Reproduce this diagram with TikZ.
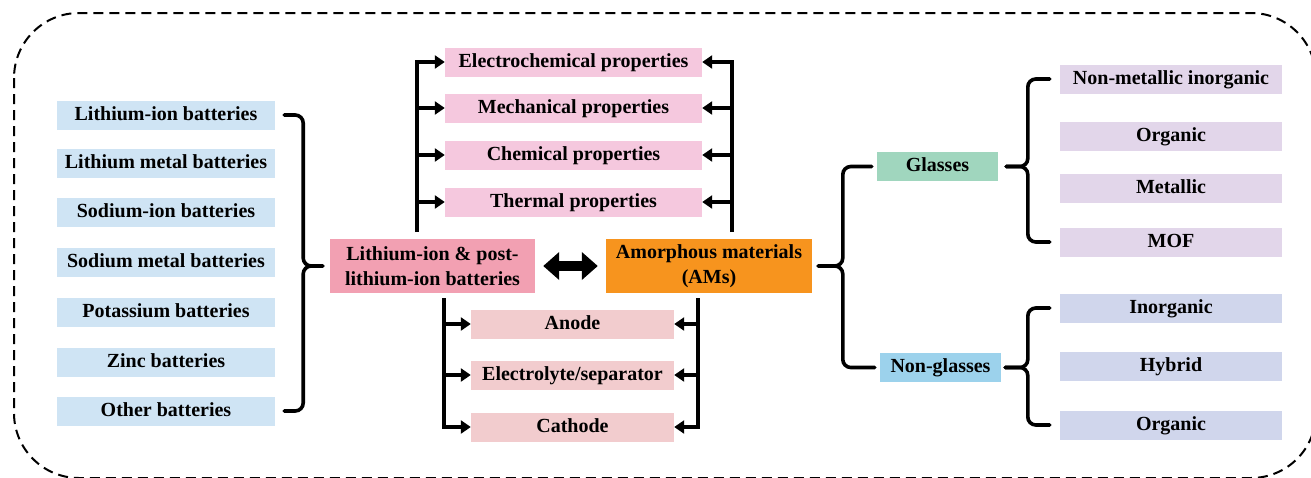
\documentclass[tikz,border=0pt]{standalone}
\usepackage{fontspec}
\setmainfont{Liberation Serif}
\usetikzlibrary{arrows.meta,calc}
\definecolor{leftblue}{RGB}{207,228,244}
\definecolor{mainpink}{RGB}{242,160,178}
\definecolor{amorange}{RGB}{247,148,30}
\definecolor{proppink}{RGB}{245,200,222}
\definecolor{partpink}{RGB}{242,204,206}
\definecolor{glgreen}{RGB}{160,214,190}
\definecolor{ngblue}{RGB}{156,210,236}
\definecolor{glpurple}{RGB}{226,214,234}
\definecolor{nglav}{RGB}{208,214,236}
\begin{document}
\begin{tikzpicture}[x=1pt,y=-1pt,
  font=\fontsize{20}{25}\selectfont\bfseries,
  basebox/.style={inner sep=0pt, text=black, align=center},
  box/.style={basebox, minimum height=29pt, text height=14pt, text depth=4pt},
  bigbox/.style={basebox, minimum height=54pt},
  brace/.style={line width=3.6pt, rounded corners=8pt, line cap=round},
  conn/.style={line width=3.4pt, -{Triangle[length=10pt,width=13pt]}},
  dbl/.style={line width=10pt, {Triangle[length=16pt,width=27pt]}-{Triangle[length=16pt,width=27pt]}}
]
\useasboundingbox (0,0) rectangle (1311,477);
% dashed frame
\draw[line width=2pt, dash pattern=on 10pt off 6pt, rounded corners=65pt] (14,13) rectangle (1316,478);

% left battery boxes
\node[box, fill=leftblue, minimum width=218pt] (b1) at (166,115) {Lithium-ion batteries};
\node[box, fill=leftblue, minimum width=218pt] (b2) at (166,163) {Lithium metal batteries};
\node[box, fill=leftblue, minimum width=218pt] (b3) at (166,212) {Sodium-ion batteries};
\node[box, fill=leftblue, minimum width=218pt] (b4) at (166,262) {Sodium metal batteries};
\node[box, fill=leftblue, minimum width=218pt] (b5) at (166,312) {Potassium batteries};
\node[box, fill=leftblue, minimum width=218pt] (b6) at (166,362) {Zinc batteries};
\node[box, fill=leftblue, minimum width=218pt] (b7) at (166,411) {Other batteries};

% main boxes
\node[bigbox, fill=mainpink, minimum width=205pt] (lib) at (432.5,266) {Lithium-ion \& post-\\lithium-ion batteries};
\node[bigbox, fill=amorange, minimum width=206pt] (am) at (709,266) {Amorphous materials\\(AMs)};
\draw[dbl] ([xshift=8pt]lib.east) -- ([xshift=-8pt]am.west);

% property boxes
\node[box, fill=proppink, minimum width=257pt] (p1) at (573.5,62) {Electrochemical properties};
\node[box, fill=proppink, minimum width=257pt] (p2) at (573.5,108) {Mechanical properties};
\node[box, fill=proppink, minimum width=257pt] (p3) at (573.5,155) {Chemical properties};
\node[box, fill=proppink, minimum width=257pt] (p4) at (573.5,202) {Thermal properties};

% component boxes
\node[box, fill=partpink, minimum width=203pt] (c1) at (572.5,324) {Anode};
\node[box, fill=partpink, minimum width=203pt] (c2) at (572.5,375) {Electrolyte/separator};
\node[box, fill=partpink, minimum width=203pt] (c3) at (572.5,427) {Cathode};

% glasses / non-glasses
\node[box, fill=glgreen, minimum width=121pt] (gl) at (937.5,166.5) {Glasses};
\node[box, fill=ngblue, minimum width=121pt] (ng) at (940.5,367.5) {Non-glasses};

\node[box, fill=glpurple, minimum width=222pt] (g1) at (1171,79) {Non-metallic inorganic};
\node[box, fill=glpurple, minimum width=222pt] (g2) at (1171,136) {Organic};
\node[box, fill=glpurple, minimum width=222pt] (g3) at (1171,188) {Metallic};
\node[box, fill=glpurple, minimum width=222pt] (g4) at (1171,242) {MOF};

\node[box, fill=nglav, minimum width=222pt] (n1) at (1171,308) {Inorganic};
\node[box, fill=nglav, minimum width=222pt] (n2) at (1171,366) {Hybrid};
\node[box, fill=nglav, minimum width=222pt] (n3) at (1171,425) {Organic};

% top connectors
\coordinate (tl) at (417,232);
\coordinate (tr) at (732,232);
\draw[conn] (tl) |- (p1.west);
\foreach \n in {p2,p3,p4} \draw[conn] (tl |- \n.west) -- (\n.west);
\draw[conn] (tr) |- (p1.east);
\foreach \n in {p2,p3,p4} \draw[conn] (tr |- \n.east) -- (\n.east);

% bottom connectors
\coordinate (bl) at (444,298);
\coordinate (br) at (698,298);
\draw[conn] (bl) |- (c3.west);
\foreach \n in {c1,c2} \draw[conn] (bl |- \n.west) -- (\n.west);
\draw[conn] (br) |- (c3.east);
\foreach \n in {c1,c2} \draw[conn] (br |- \n.east) -- (\n.east);

% braces
\draw[brace] ([xshift=9pt]b1.east) -- ++(19,0) |- ([xshift=-7pt]lib.west);
\draw[brace] ([xshift=9pt]b7.east) -- ++(19,0) |- ([xshift=-7pt]lib.west);

\draw[brace] ([xshift=-5pt]gl.west) -- ++(-29,0) |- ([xshift=6pt]am.east);
\draw[brace] ([xshift=-5pt]ng.west) -- ++(-32,0) |- ([xshift=6pt]am.east);

\draw[brace] ([xshift=-10pt]g1.west) -- ++(-22,0) |- ([xshift=8pt]gl.east);
\draw[brace] ([xshift=-10pt]g4.west) -- ++(-22,0) |- ([xshift=8pt]gl.east);

\draw[brace] ([xshift=-10pt]n1.west) -- ++(-22,0) |- ([xshift=4pt]ng.east);
\draw[brace] ([xshift=-10pt]n3.west) -- ++(-22,0) |- ([xshift=4pt]ng.east);
\end{tikzpicture}
\end{document}
